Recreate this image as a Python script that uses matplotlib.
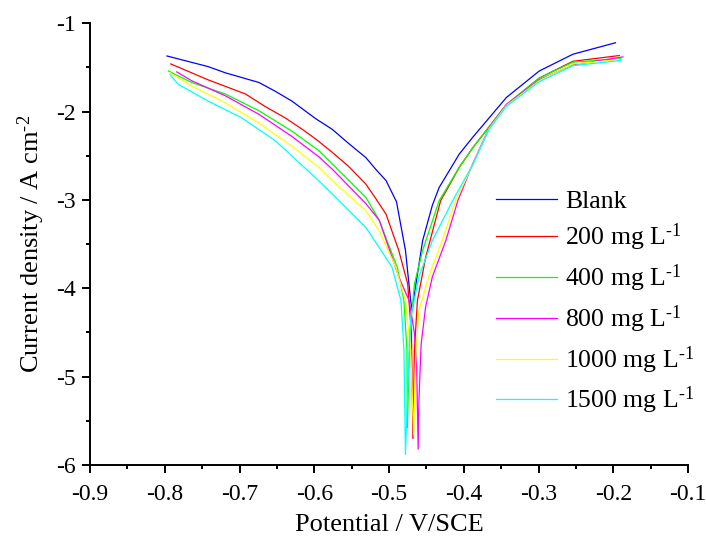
import matplotlib
matplotlib.use("Agg")
from matplotlib import pyplot as plt
from matplotlib.ticker import MultipleLocator

# Tafel curves: potential (V/SCE), log current density
labels = ["Blank", r"200 mg L$^{\text{-1}}$", r"400 mg L$^{\text{-1}}$", r"800 mg L$^{\text{-1}}$",
          r"1000 mg L$^{\text{-1}}$", r"1500 mg L$^{\text{-1}}$"]
colors = ["#0000ff", "#ff0000", "#00ff00", "#ff00ff", "#ffff00", "#00ffff"]

blank_x = [-0.797, -0.742, -0.719, -0.674, -0.652, -0.630, -0.598, -0.576, -0.554,
           -0.531, -0.518, -0.504, -0.490, -0.478, -0.471, -0.469, -0.464, -0.455,
           -0.442, -0.433, -0.406, -0.388, -0.343, -0.299, -0.254, -0.197]
blank_y = [-1.37, -1.49, -1.56, -1.67, -1.77, -1.88, -2.08, -2.20, -2.36,
           -2.52, -2.65, -2.78, -3.02, -3.57, -4.14, -4.25, -3.95, -3.46,
           -3.06, -2.86, -2.48, -2.29, -1.84, -1.54, -1.35, -1.22]

c200_x = [-0.792, -0.764, -0.742, -0.692, -0.666, -0.639, -0.616, -0.598, -0.576,
          -0.554, -0.531, -0.518, -0.504, -0.487, -0.475, -0.470, -0.468, -0.466,
          -0.462, -0.451, -0.431, -0.406, -0.388, -0.343, -0.299, -0.254, -0.192]
c200_y = [-1.46, -1.56, -1.64, -1.80, -1.94, -2.07, -2.20, -2.31, -2.46,
          -2.62, -2.82, -2.98, -3.16, -3.57, -3.95, -4.51, -5.70, -4.70,
          -4.14, -3.65, -3.01, -2.63, -2.41, -1.92, -1.62, -1.43, -1.365]

c400_x = [-0.795, -0.764, -0.719, -0.674, -0.630, -0.594, -0.576, -0.531, -0.513,
          -0.489, -0.480, -0.476, -0.4755, -0.472, -0.466, -0.455, -0.433, -0.406,
          -0.388, -0.343, -0.299, -0.254, -0.190]
c400_y = [-1.54, -1.67, -1.80, -1.99, -2.22, -2.44, -2.59, -2.97, -3.23,
          -3.76, -4.14, -4.70, -5.58, -4.51, -3.95, -3.57, -3.01, -2.63,
          -2.41, -1.92, -1.62, -1.44, -1.40]

c800_x = [-0.784, -0.764, -0.719, -0.674, -0.630, -0.594, -0.576, -0.531, -0.513,
          -0.487, -0.473, -0.466, -0.463, -0.461, -0.460, -0.457, -0.451, -0.442,
          -0.424, -0.408, -0.388, -0.366, -0.343, -0.299, -0.254, -0.187]
c800_y = [-1.55, -1.65, -1.82, -2.03, -2.28, -2.51, -2.65, -3.04, -3.23,
          -3.87, -4.14, -4.51, -4.89, -5.82, -5.27, -4.63, -4.21, -3.87,
          -3.46, -3.01, -2.59, -2.18, -1.92, -1.64, -1.47, -1.38]

c1000_x = [-0.793, -0.764, -0.719, -0.674, -0.630, -0.594, -0.576, -0.531, -0.513,
           -0.491, -0.478, -0.471, -0.467, -0.464, -0.460, -0.447, -0.429, -0.411,
           -0.388, -0.366, -0.343, -0.299, -0.254, -0.190]
c1000_y = [-1.56, -1.71, -1.90, -2.13, -2.39, -2.63, -2.78, -3.12, -3.35,
           -3.76, -4.14, -4.70, -5.66, -4.70, -4.25, -3.87, -3.46, -3.01,
           -2.60, -2.19, -1.93, -1.65, -1.46, -1.41]

c1500_x = [-0.793, -0.782, -0.742, -0.697, -0.652, -0.598, -0.576, -0.531, -0.513,
           -0.496, -0.484, -0.480, -0.478, -0.473, -0.471, -0.460, -0.442, -0.415,
           -0.388, -0.366, -0.343, -0.299, -0.254, -0.190]
c1500_y = [-1.58, -1.69, -1.88, -2.07, -2.33, -2.75, -2.93, -3.31, -3.54,
           -3.76, -4.14, -4.70, -5.88, -4.70, -4.33, -3.87, -3.46, -3.01,
           -2.60, -2.20, -1.94, -1.66, -1.48, -1.42]

curves = [(blank_x, blank_y), (c200_x, c200_y), (c400_x, c400_y),
          (c800_x, c800_y), (c1000_x, c1000_y), (c1500_x, c1500_y)]

plt.rcParams["font.family"] = ["Liberation Serif", "DejaVu Serif"]
plt.rcParams["mathtext.fontset"] = "custom"
plt.rcParams["mathtext.rm"] = "Liberation Serif"
plt.rcParams["mathtext.it"] = "Liberation Serif:italic"

fig = plt.figure(figsize=(7.06, 5.36), dpi=100)
ax = fig.add_axes([0.1275, 0.1325, 0.847, 0.824])

for (xs, ys), lab, col in zip(curves, labels, colors):
    ax.plot(xs, ys, color=col, lw=0.9, label=lab)

ax.set_xlim(-0.9, -0.1)
ax.set_ylim(-6, -1)
ax.xaxis.set_major_locator(MultipleLocator(0.1))
ax.xaxis.set_minor_locator(MultipleLocator(0.05))
ax.yaxis.set_major_locator(MultipleLocator(1))
ax.yaxis.set_minor_locator(MultipleLocator(0.5))
ax.xaxis.set_major_formatter(plt.FuncFormatter(lambda v, p: f"{v:.1f}"))
ax.yaxis.set_major_formatter(plt.FuncFormatter(lambda v, p: f"{v:.0f}"))

for side in ["top", "right"]:
    ax.spines[side].set_visible(False)
for side in ["left", "bottom"]:
    ax.spines[side].set_linewidth(1.4)

ax.tick_params(which="major", direction="out", length=5.5, width=1.4, labelsize=17)
ax.tick_params(axis="x", which="major", pad=8)
ax.tick_params(axis="y", which="major", pad=5)
ax.tick_params(which="minor", direction="out", length=3, width=1.4)

ax.set_xlabel("Potential / V/SCE", fontsize=19, labelpad=7)
ax.set_ylabel(r"Current density / A cm$^{\text{-2}}$", fontsize=19, labelpad=6)

ax.legend(loc="upper left", bbox_to_anchor=(0.703, 0.646), bbox_transform=fig.transFigure,
          frameon=False, fontsize=18.5, handlelength=2.35, handletextpad=0.32,
          labelspacing=0.36, borderpad=0, borderaxespad=0)

fig.savefig("out.png", dpi=100)
